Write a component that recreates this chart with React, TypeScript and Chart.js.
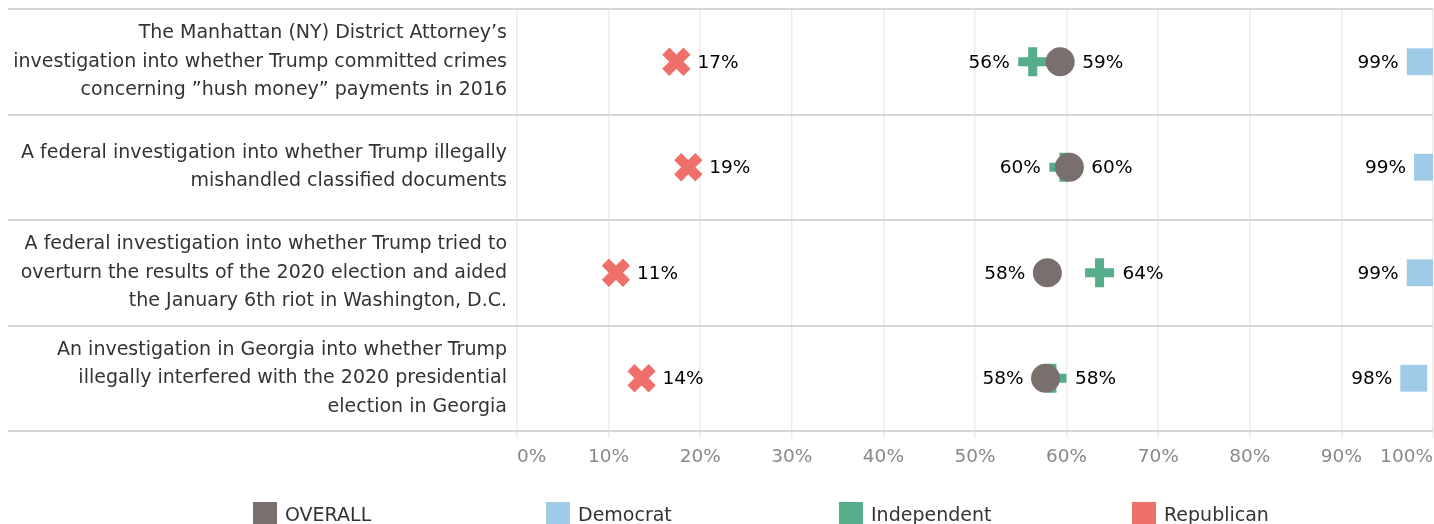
import React, { useEffect, useRef } from "react";
import { Chart, registerables } from "chart.js";

Chart.register(...registerables);

const CATEGORIES: string[][] = [
  ["The Manhattan (NY) District Attorney’s", "investigation into whether Trump committed crimes", "concerning ”hush money” payments in 2016"],
  ["A federal investigation into whether Trump illegally", "mishandled classified documents"],
  ["A federal investigation into whether Trump tried to", "overturn the results of the 2020 election and aided", "the January 6th riot in Washington, D.C."],
  ["An investigation in Georgia into whether Trump", "illegally interfered with the 2020 presidential", "election in Georgia"],
];

const OVERALL = [59.3, 60.3, 57.9, 57.7];
const DEMOCRAT = [98.6, 99.4, 98.6, 97.9];
const INDEPENDENT = [56.3, 59.7, 63.6, 58.4];
const REPUBLICAN = [17.4, 18.7, 10.8, 13.6];

const X_TICKS = [0, 10, 20, 30, 40, 50, 60, 70, 80, 90, 100];
const LEGEND_LABELS = ["OVERALL", "Democrat", "Independent", "Republican"];
const COLORS = ["#79706e", "#a0cbe8", "#55ad89", "#ef706b"];

const FONT = "'DejaVu Sans', sans-serif";

export default function App() {
  const ref = useRef<HTMLCanvasElement | null>(null);

  useEffect(() => {
    const canvas = ref.current;
    if (!canvas) return;

    const dividerPlugin = {
      id: "dividers",
      beforeDatasetsDraw(chart: any) {
        const { ctx, chartArea } = chart;
        const y = chart.scales.y;
        ctx.save();
        ctx.strokeStyle = "#d6d6d6";
        ctx.lineWidth = 2;
        for (let i = 0; i <= CATEGORIES.length; i++) {
          const py = Math.round(y.getPixelForValue(i - 0.5));
          ctx.beginPath();
          ctx.moveTo(8, py);
          ctx.lineTo(chartArea.right, py);
          ctx.stroke();
        }
        ctx.restore();
      },
    };

    const labelPlugin = {
      id: "dataLabels",
      afterDatasetsDraw(chart: any) {
        const { ctx } = chart;
        ctx.save();
        ctx.font = `18.5px ${FONT}`;
        ctx.fillStyle = "#000";
        ctx.textBaseline = "middle";
        chart.data.datasets.forEach((ds: any, di: number) => {
          const meta = chart.getDatasetMeta(di);
          meta.data.forEach((pt: any, i: number) => {
            const v = ds.data[i];
            const text = Math.round(v) + "%";
            let right = true;
            let off = 21;
            if (ds.label === "OVERALL") {
              right = OVERALL[i] >= INDEPENDENT[i];
              off = 22;
            } else if (ds.label === "Independent") {
              right = INDEPENDENT[i] > OVERALL[i];
              off = 23;
            } else if (ds.label === "Democrat") {
              right = false;
              off = 21.5;
            } else {
              right = true;
              off = 21;
            }
            ctx.textAlign = right ? "left" : "right";
            ctx.fillText(text, pt.x + (right ? off : -off), pt.y + 1);
          });
        });
        ctx.restore();
      },
    };

    const legendPlugin = {
      id: "customLegend",
      afterDraw(chart: any) {
        const { ctx } = chart;
        ctx.save();
        ctx.font = `19px ${FONT}`;
        ctx.textBaseline = "middle";
        ctx.textAlign = "left";
        LEGEND_LABELS.forEach((lab, i) => {
          const x = 253 + i * 293;
          ctx.fillStyle = COLORS[i];
          ctx.fillRect(x, 502, 24, 24);
          ctx.fillStyle = "#333";
          ctx.fillText(lab, x + 32, 516);
        });
        ctx.restore();
      },
    };

    const chart = new Chart(canvas, {
      type: "line",
      data: {
        labels: CATEGORIES as any,
        datasets: [
          {
            label: "OVERALL",
            data: OVERALL,
            showLine: false,
            pointStyle: "circle",
            pointRadius: 14.5,
            pointBorderWidth: 0,
            pointBackgroundColor: COLORS[0],
            pointBorderColor: COLORS[0],
          },
          {
            label: "Independent",
            data: INDEPENDENT,
            showLine: false,
            pointStyle: "cross",
            pointRadius: 14.5,
            pointBorderWidth: 9,
            pointBackgroundColor: COLORS[2],
            pointBorderColor: COLORS[2],
          },
          {
            label: "Democrat",
            data: DEMOCRAT,
            showLine: false,
            pointStyle: "rect",
            pointRadius: 19,
            pointBorderWidth: 0,
            pointBackgroundColor: COLORS[1],
            pointBorderColor: COLORS[1],
          },
          {
            label: "Republican",
            data: REPUBLICAN,
            showLine: false,
            pointStyle: "crossRot",
            pointRadius: 15,
            pointBorderWidth: 10,
            pointBackgroundColor: COLORS[3],
            pointBorderColor: COLORS[3],
          },
        ],
      },
      options: {
        indexAxis: "y",
        responsive: false,
        animation: false,
        devicePixelRatio: 1,
        layout: { autoPadding: false, padding: { top: 9, right: 1, left: 0, bottom: 0 } },
        plugins: {
          legend: { display: false },
          tooltip: { enabled: false },
        },
        scales: {
          x: {
            type: "linear",
            position: "bottom",
            min: 0,
            max: 100,
            afterBuildTicks(scale: any) {
              scale.ticks = X_TICKS.map((v) => ({ value: v }));
            },
            afterFit(scale: any) {
              scale.height = 93;
              scale.paddingLeft = 0;
              scale.paddingRight = 0;
            },
            border: { display: false },
            grid: {
              color: "#ececec",
              lineWidth: 1.5,
              drawTicks: true,
              tickLength: 7,
              tickColor: "#ececec",
            },
            ticks: {
              align: "inner",
              padding: 8,
              color: "#888888",
              font: { family: FONT, size: 18.5 },
              callback: (v: any) => v + "%",
            },
          },
          y: {
            type: "category",
            offset: true,
            afterFit(scale: any) {
              scale.width = 517;
              scale.paddingTop = 0;
              scale.paddingBottom = 0;
            },
            border: { display: false },
            grid: { display: false, drawTicks: false },
            ticks: {
              padding: 10,
              color: "#333333",
              font: { family: FONT, size: 19, lineHeight: 1.5 },
            },
          },
        },
      },
      plugins: [dividerPlugin, labelPlugin, legendPlugin],
    } as any);

    return () => chart.destroy();
  }, []);

  return (
    <div style={{ position: "fixed", left: 0, top: 0, width: 1434, height: 524, background: "#fff" }}>
      <canvas ref={ref} width={1434} height={524} />
    </div>
  );
}
